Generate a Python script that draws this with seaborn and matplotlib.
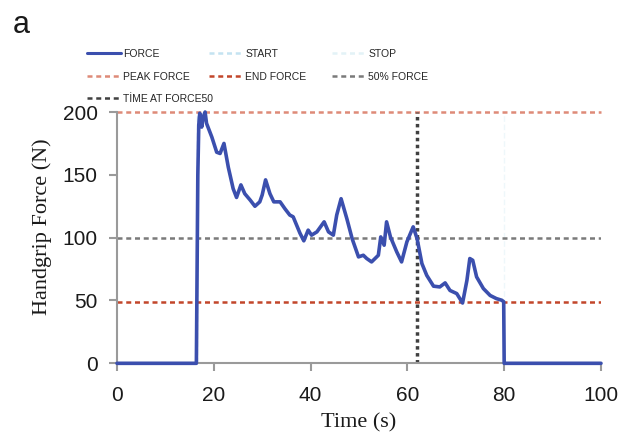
import matplotlib
matplotlib.use("Agg")
import matplotlib.pyplot as plt
import seaborn as sns
import pandas as pd
from matplotlib.lines import Line2D

# handgrip force trace
time_s = [0, 16.4, 16.7, 16.9, 17.1, 17.5, 17.8, 18.2, 18.5, 19.6, 20.6, 21.3,
          22.1, 23.0, 24.0, 24.7, 25.6, 26.4, 27.5, 28.5, 29.5, 30.0, 30.7,
          31.6, 32.4, 33.7, 34.7, 35.7, 36.4, 37.8, 38.6, 39.5, 40.2, 41.3,
          42.8, 43.7, 44.7, 45.4, 46.3, 47.5, 48.6, 49.9, 50.9, 51.6, 52.6,
          54.0, 54.5, 55.2, 55.7, 56.5, 57.8, 58.8, 59.9, 61.2, 62.0, 63.0,
          64.0, 65.4, 66.7, 67.8, 68.8, 70.2, 71.4, 72.3, 72.9, 73.5, 74.3,
          75.7, 77.1, 78.4, 79.5, 79.9, 80.0, 100]
force_n = [0, 0, 150, 190, 199, 188, 196, 200, 191, 180, 168, 167,
           175, 156, 139, 132, 142, 135, 130, 125, 128.5, 134, 146,
           135, 128.5, 128.5, 123, 118, 116.6, 103.6, 97.5, 106, 102, 104.6,
           112.6, 104.6, 102, 118, 131, 115, 99, 84.7, 86, 83.4, 80.7,
           86, 100.6, 94, 112.6, 100.6, 88.7, 80.7, 96.7, 108.6, 99.3, 79.4,
           70, 61.4, 60.8, 64, 58, 55.5, 48, 66, 83.4, 82, 68.8,
           59.5, 54, 51.5, 50.2, 49, 0, 0]

start_t = 16.5
stop_t = 80.0
peak_force = 200
end_force = 49
half_force = 100
time_at_force50 = 62.0

df = pd.DataFrame({"Time (s)": time_s, "Force": force_n})

sns.set_style("white")
plt.rcParams["font.family"] = ["Liberation Sans", "DejaVu Sans"]

fig = plt.figure(figsize=(6.22, 4.36), dpi=100)
ax = fig.add_axes([0.1881, 0.1667, 0.7781, 0.5764])

c_force = "#3b4fae"
c_start = "#d3e9f3"
c_stop = "#eef7fa"
c_peak = "#de8a78"
c_end = "#c2462b"
c_half = "#7a7a7a"
c_t50 = "#404040"

dot = (0, (2, 1.5))
ax.axvline(start_t, color=c_start, lw=1.0, ls=(0, (4, 2)), zorder=1)
ax.axvline(stop_t, color=c_stop, lw=1.0, ls=(0, (4, 2)), zorder=1)
ax.axhline(peak_force, color=c_peak, lw=1.8, ls=dot, zorder=2, clip_on=False)
ax.axhline(end_force, color=c_end, lw=1.8, ls=dot, zorder=2)
ax.axhline(half_force, color=c_half, lw=1.8, ls=dot, zorder=2)
ax.axvline(time_at_force50, color=c_t50, lw=2.5, ls=(0, (1, 1)), zorder=2)

sns.lineplot(data=df, x="Time (s)", y="Force", ax=ax, color=c_force,
             lw=2.6, sort=False, estimator=None, zorder=3, clip_on=False)

ax.set_xlim(0, 100)
ax.set_ylim(0, 200)
ax.set_xticks([0, 20, 40, 60, 80, 100])
ax.set_yticks([0, 50, 100, 150, 200])

sns.despine(ax=ax)
for side in ["left", "bottom"]:
    ax.spines[side].set_color("#9a9a9a")
    ax.spines[side].set_linewidth(1.5)
ax.tick_params(axis="both", which="major", bottom=True, left=True,
               direction="out", length=6, width=1.5, color="#9a9a9a",
               labelsize=15, labelcolor="#1a1a1a")
ax.tick_params(axis="x", pad=10)
ax.tick_params(axis="y", pad=8)

ax.set_xlabel("Time (s)", family="Liberation Serif", fontsize=16, color="#1a1a1a")
ax.set_ylabel("Handgrip Force (N)", family="Liberation Serif", fontsize=16, color="#1a1a1a")
ax.xaxis.set_label_coords(0.5, -0.2)
ax.yaxis.set_label_coords(-0.135, 0.545)

# legend: three fixed-width columns like the original
def h(color, lw, ls):
    return Line2D([], [], color=color, lw=lw, ls=ls)

columns = [
    ([h(c_force, 2.2, "-"), h(c_peak, 1.8, dot), h(c_t50, 1.8, dot)],
     ["FORCE", "PEAK FORCE", "TİME AT FORCE50"], 87),
    ([h("#c4e3f1", 1.8, (0, (2, 1.5))), h(c_end, 1.8, dot)],
     ["START", "END FORCE"], 209),
    ([h("#e3f2f7", 1.8, (0, (2, 1.5))), h(c_half, 1.8, dot)],
     ["STOP", "50% FORCE"], 332),
]
for handles, labels, x0 in columns:
    fig.legend(handles, labels, loc="upper left",
               bbox_to_anchor=(x0 / 622, 1 - 49 / 436), frameon=False,
               fontsize=7.5, handlelength=3.3, handletextpad=0.2,
               labelspacing=1.2, borderpad=0, borderaxespad=0)

fig.text(13 / 622, 1 - 33 / 436, "a", fontsize=22, va="baseline", color="#1a1a1a")

fig.savefig("out.png", dpi=100)
